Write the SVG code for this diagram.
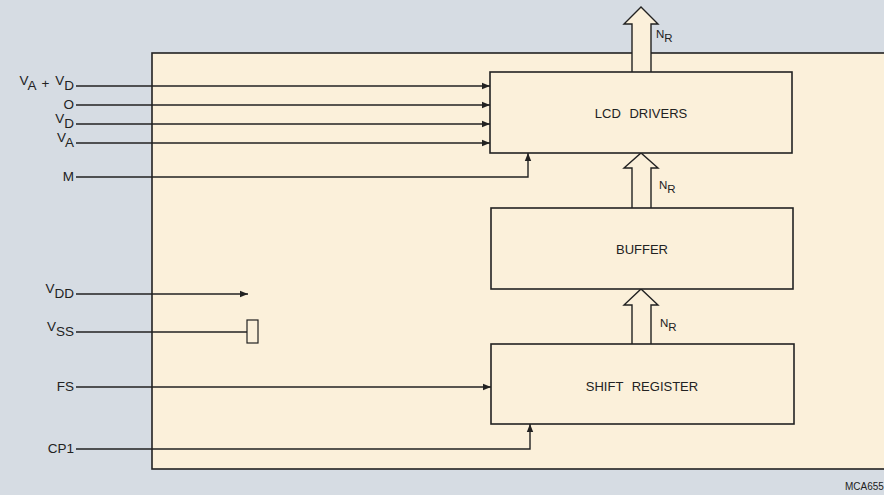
<svg xmlns="http://www.w3.org/2000/svg" width="884" height="495" viewBox="0 0 884 495">
<defs>
<marker id="ah" viewBox="0 0 10 10" refX="10" refY="5" markerWidth="8" markerHeight="8" markerUnits="userSpaceOnUse" orient="auto">
<path d="M0,1 L10,5 L0,9 Z" fill="#222"/>
</marker>
</defs>
<style>
.ln{stroke:#222;stroke-width:1.4;fill:none}
.box{fill:#fbf0da;stroke:#222;stroke-width:1.6}
.bus{fill:#fbf0da;stroke:#222;stroke-width:1.4;stroke-linejoin:miter}
.t{font-family:"Liberation Sans",Arial,sans-serif;font-size:13px;fill:#222}
.lb{font-family:"Liberation Sans",Arial,sans-serif;font-size:13.5px;fill:#222;text-anchor:end}
.s{font-size:11.5px}
</style>
<rect x="0" y="0" width="884" height="495" fill="#d6dce3"/>
<rect x="152" y="53" width="740" height="416" fill="#fbf0da" stroke="#222" stroke-width="1.6"/>
<g id="connectors">
<line class="ln" x1="76" y1="86" x2="490" y2="86" marker-end="url(#ah)"/>
<line class="ln" x1="76" y1="105" x2="490" y2="105" marker-end="url(#ah)"/>
<line class="ln" x1="76" y1="124" x2="490" y2="124" marker-end="url(#ah)"/>
<line class="ln" x1="76" y1="143" x2="490" y2="143" marker-end="url(#ah)"/>
<polyline class="ln" points="76,177 528,177 528,153" marker-end="url(#ah)"/>
<line class="ln" x1="76" y1="294" x2="248" y2="294" marker-end="url(#ah)"/>
<line class="ln" x1="76" y1="332" x2="247" y2="332"/>
<rect x="247" y="320" width="11" height="23" fill="#fbf0da" stroke="#222" stroke-width="1.2"/>
<line class="ln" x1="76" y1="387" x2="491" y2="387" marker-end="url(#ah)"/>
<polyline class="ln" points="76,449 530,449 530,424" marker-end="url(#ah)"/>
<path class="bus" d="M632,72 L632,24 L624,24 L641,7 L658,24 L651,24 L651,72"/>
<path class="bus" d="M632,208 L632,168 L624,168 L641,153 L658,168 L651,168 L651,208"/>
<path class="bus" d="M632,344 L632,305 L624,305 L641,289 L658,305 L651,305 L651,344"/>
</g>
<g id="lcd-drivers">
<rect class="box" x="490" y="72" width="302" height="81"/>
<text class="t" x="641" y="118" text-anchor="middle" word-spacing="5">LCD DRIVERS</text>
</g>
<g id="buffer">
<rect class="box" x="491" y="208" width="302" height="81"/>
<text class="t" x="642" y="254" text-anchor="middle">BUFFER</text>
</g>
<g id="shift-register">
<rect class="box" x="491" y="344" width="303" height="80"/>
<text class="t" x="642" y="391" text-anchor="middle" word-spacing="5">SHIFT REGISTER</text>
</g>
<g id="labels">
<text class="t s" x="656" y="38">N<tspan dy="4">R</tspan></text>
<text class="t s" x="659" y="189">N<tspan dy="4">R</tspan></text>
<text class="t s" x="660" y="327">N<tspan dy="4">R</tspan></text>
<text class="lb" x="74" y="88" word-spacing="2"><tspan dy="-3">V</tspan><tspan dy="5">A</tspan><tspan dy="-2"> + </tspan><tspan dy="-3">V</tspan><tspan dy="5">D</tspan></text>
<text class="lb" x="74" y="109">O</text>
<text class="lb" x="74" y="126"><tspan dy="-3">V</tspan><tspan dy="5">D</tspan></text>
<text class="lb" x="74" y="145"><tspan dy="-3">V</tspan><tspan dy="5">A</tspan></text>
<text class="lb" x="74" y="181">M</text>
<text class="lb" x="74" y="296"><tspan dy="-3">V</tspan><tspan dy="5">DD</tspan></text>
<text class="lb" x="74" y="334"><tspan dy="-3">V</tspan><tspan dy="5">SS</tspan></text>
<text class="lb" x="74" y="391">FS</text>
<text class="lb" x="74" y="453">CP1</text>
<text class="t" x="845" y="490" style="font-size:10px">MCA655</text>
</g>
</svg>
